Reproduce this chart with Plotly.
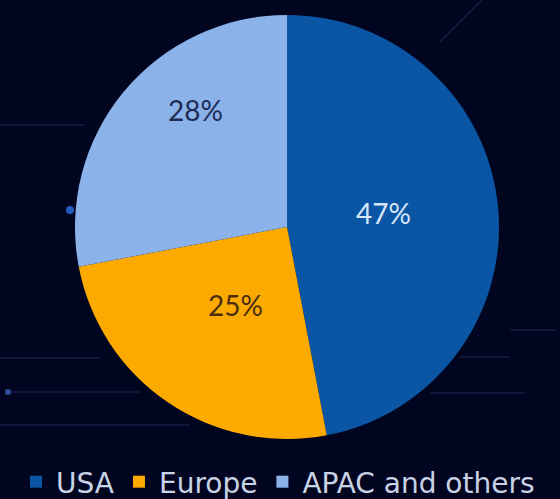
import plotly.graph_objects as go

labels = ["USA", "Europe", "APAC and others"]
values = [47, 25, 28]
colors = ["#0A56A4", "#FDAA00", "#8BB3EA"]
text_colors = ["#D6E6FA", "#4A2E10", "#1E2C55"]

BG = "#02051F"
W, H = 560, 499
PIE = 424  # pie domain size in px
ML, MR, MT = 75, 0, 15
MB = H - MT - PIE
PW, PH = W - ML - MR, H - MT - MB


def px(x):
    return (x - ML) / PW


def py(y):
    return (H - MB - y) / PH


fig = go.Figure(go.Pie(
    labels=labels,
    values=values,
    sort=False,
    direction="clockwise",
    rotation=0,
    domain=dict(x=[0, PIE / PW], y=[0, 1]),
    marker=dict(colors=colors, line=dict(color=BG, width=0)),
    textinfo="none",
    hoverinfo="label+percent",
))

# percentage labels placed like the original (Excel "best fit")
label_pos = [(383, 213), (235, 305), (195, 110)]
total = sum(values)
annotations = []
for v, (lx, ly), tc in zip(values, label_pos, text_colors):
    annotations.append(dict(
        x=px(lx), y=py(ly), xref="paper", yref="paper",
        text=f"{round(100 * v / total)}%", showarrow=False,
        font=dict(color=tc, size=28, family="Lato"),
        xanchor="center", yanchor="middle",
    ))

# faint decorative background lines
deco = [
    (0, 125, 85, 125),
    (0, 358, 100, 358),
    (8, 392, 140, 392),
    (0, 425, 190, 425),
    (510, 330, 556, 330),
    (460, 357, 510, 357),
    (430, 393, 525, 393),
    (440, 42, 482, 0),
]
shapes = []
for x0, y0, x1, y1 in deco:
    shapes.append(dict(type="line", xref="paper", yref="paper",
                       x0=px(x0), y0=py(y0), x1=px(x1), y1=py(y1),
                       line=dict(color="rgba(70,90,160,0.22)", width=2), layer="below"))
for cx, cy, r, col in [(8, 392, 3, "rgba(60,110,200,0.7)"), (70, 210, 4, "rgba(40,100,210,0.9)")]:
    shapes.append(dict(type="circle", xref="paper", yref="paper",
                       x0=px(cx - r), y0=py(cy + r), x1=px(cx + r), y1=py(cy - r),
                       fillcolor=col, line=dict(width=0), layer="below"))

fig.update_layout(
    width=W, height=H,
    paper_bgcolor=BG,
    plot_bgcolor=BG,
    margin=dict(l=ML, r=MR, t=MT, b=MB, autoexpand=False),
    shapes=shapes,
    annotations=annotations,
    legend=dict(
        orientation="h",
        x=px(16), xanchor="left",
        y=py(482), yanchor="middle",
        font=dict(color="#C9D3E6", size=28, family="DejaVu Sans"),
        bgcolor="rgba(0,0,0,0)",
        itemclick=False,
        tracegroupgap=0,
    ),
    showlegend=True,
)

fig.write_html("out.html", config={"displayModeBar": False},
               post_script="document.body.style.margin='0';")
